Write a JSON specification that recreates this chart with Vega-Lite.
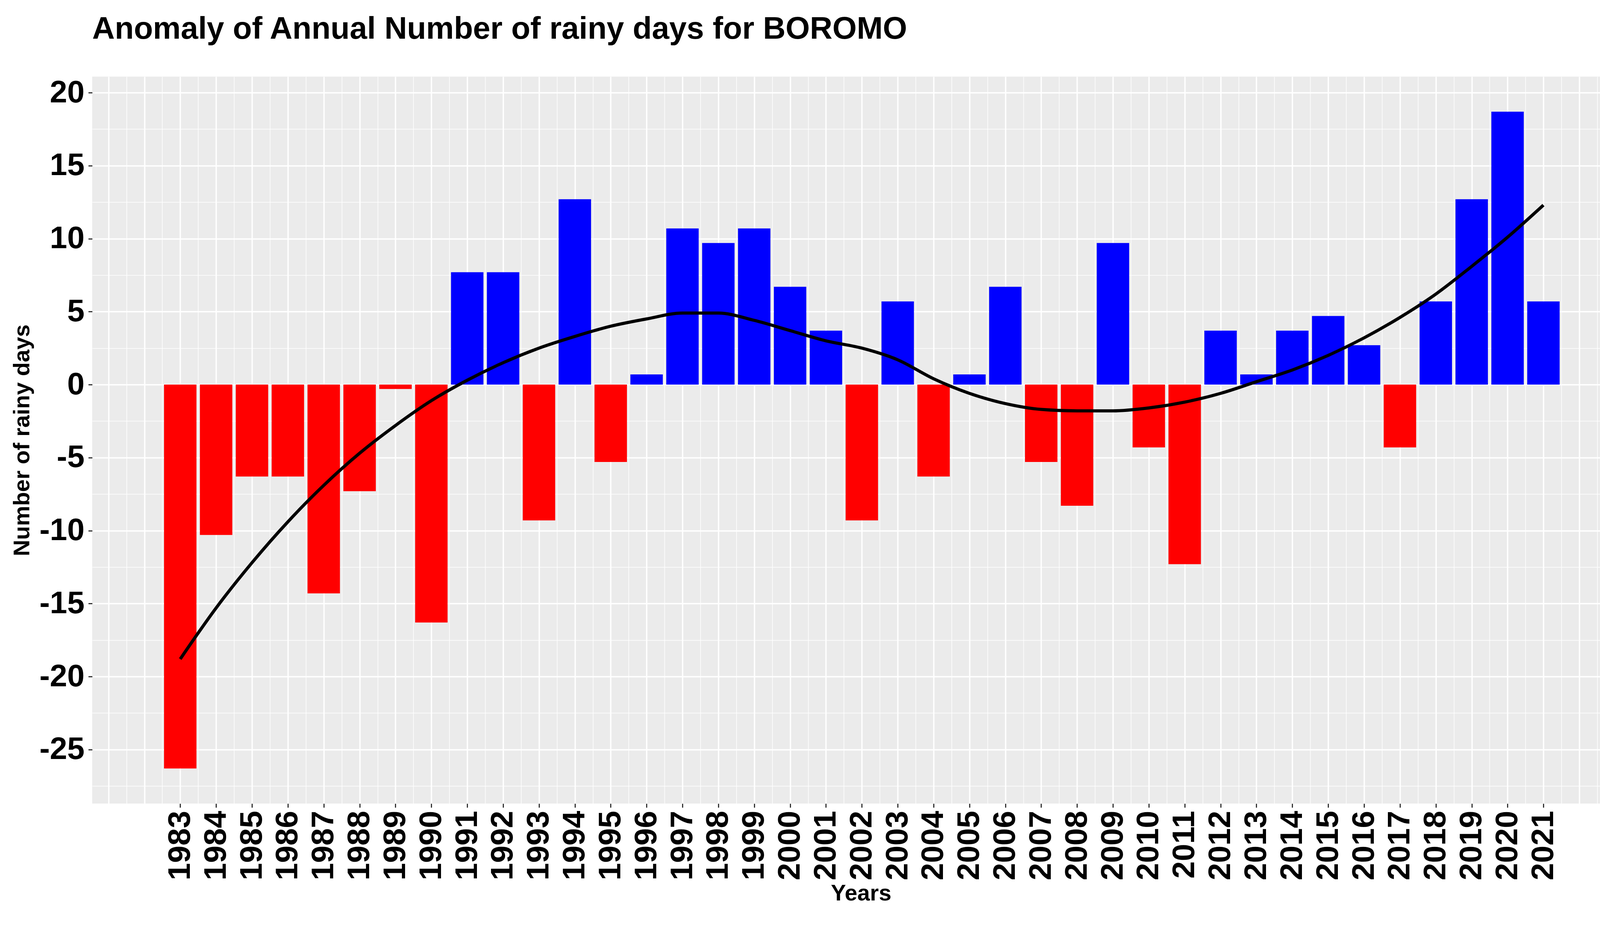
{
  "$schema": "https://vega.github.io/schema/vega-lite/v6.json",
  "width": 3936,
  "height": 1860,
  "autosize": "none",
  "padding": {"left": 236, "top": 196, "right": 28, "bottom": 344},
  "background": "white",
  "title": {
    "text": "Anomaly of Annual Number of rainy days for BOROMO",
    "anchor": "start",
    "frame": "group",
    "fontSize": 80,
    "fontWeight": "bold",
    "font": "Liberation Sans",
    "color": "black",
    "offset": 80
  },
  "config": {
    "view": {"fill": "#EBEBEB", "stroke": null},
    "axis": {
      "labelFont": "Liberation Sans",
      "titleFont": "Liberation Sans",
      "labelFontSize": 80,
      "labelFontWeight": "bold",
      "labelColor": "black",
      "titleFontSize": 58,
      "titleFontWeight": "bold",
      "titleColor": "black",
      "gridColor": "white",
      "domain": false,
      "tickColor": "#333333",
      "tickSize": 10,
      "tickWidth": 3
    }
  },
  "datasets": {
    "bars": [
      {"year": 1983, "value": -26.3}, {"year": 1984, "value": -10.3}, {"year": 1985, "value": -6.3},
      {"year": 1986, "value": -6.3}, {"year": 1987, "value": -14.3}, {"year": 1988, "value": -7.3},
      {"year": 1989, "value": -0.3}, {"year": 1990, "value": -16.3}, {"year": 1991, "value": 7.7},
      {"year": 1992, "value": 7.7}, {"year": 1993, "value": -9.3}, {"year": 1994, "value": 12.7},
      {"year": 1995, "value": -5.3}, {"year": 1996, "value": 0.7}, {"year": 1997, "value": 10.7},
      {"year": 1998, "value": 9.7}, {"year": 1999, "value": 10.7}, {"year": 2000, "value": 6.7},
      {"year": 2001, "value": 3.7}, {"year": 2002, "value": -9.3}, {"year": 2003, "value": 5.7},
      {"year": 2004, "value": -6.3}, {"year": 2005, "value": 0.7}, {"year": 2006, "value": 6.7},
      {"year": 2007, "value": -5.3}, {"year": 2008, "value": -8.3}, {"year": 2009, "value": 9.7},
      {"year": 2010, "value": -4.3}, {"year": 2011, "value": -12.3}, {"year": 2012, "value": 3.7},
      {"year": 2013, "value": 0.7}, {"year": 2014, "value": 3.7}, {"year": 2015, "value": 4.7},
      {"year": 2016, "value": 2.7}, {"year": 2017, "value": -4.3}, {"year": 2018, "value": 5.7},
      {"year": 2019, "value": 12.7}, {"year": 2020, "value": 18.7}, {"year": 2021, "value": 5.7}
    ],
    "trend": [
      {"year": 1983, "value": -18.8}, {"year": 1984, "value": -15.3}, {"year": 1985, "value": -12.2},
      {"year": 1986, "value": -9.4}, {"year": 1987, "value": -6.9}, {"year": 1988, "value": -4.7},
      {"year": 1989, "value": -2.8}, {"year": 1990, "value": -1.1}, {"year": 1991, "value": 0.3},
      {"year": 1992, "value": 1.5}, {"year": 1993, "value": 2.5}, {"year": 1994, "value": 3.3},
      {"year": 1995, "value": 4.0}, {"year": 1996, "value": 4.5}, {"year": 1997, "value": 4.9},
      {"year": 1998, "value": 4.9}, {"year": 1999, "value": 4.4}, {"year": 2000, "value": 3.7},
      {"year": 2001, "value": 3.0}, {"year": 2002, "value": 2.5}, {"year": 2003, "value": 1.7},
      {"year": 2004, "value": 0.4}, {"year": 2005, "value": -0.6}, {"year": 2006, "value": -1.3},
      {"year": 2007, "value": -1.7}, {"year": 2008, "value": -1.8}, {"year": 2009, "value": -1.8},
      {"year": 2010, "value": -1.6}, {"year": 2011, "value": -1.2}, {"year": 2012, "value": -0.6},
      {"year": 2013, "value": 0.2}, {"year": 2014, "value": 1.0}, {"year": 2015, "value": 2.0},
      {"year": 2016, "value": 3.2}, {"year": 2017, "value": 4.6}, {"year": 2018, "value": 6.2},
      {"year": 2019, "value": 8.1}, {"year": 2020, "value": 10.1}, {"year": 2021, "value": 12.3}
    ]
  },
  "encoding": {
    "x": {
      "field": "year",
      "type": "quantitative",
      "scale": {"domain": [1980.6, 2023.35], "nice": false, "zero": false},
      "axis": {
        "title": "Years",
        "titlePadding": 6,
        "values": [1981, 1981.5, 1982, 1982.5, 1983, 1983.5, 1984, 1984.5, 1985, 1985.5, 1986, 1986.5, 1987, 1987.5, 1988, 1988.5, 1989, 1989.5, 1990, 1990.5, 1991, 1991.5, 1992, 1992.5, 1993, 1993.5, 1994, 1994.5, 1995, 1995.5, 1996, 1996.5, 1997, 1997.5, 1998, 1998.5, 1999, 1999.5, 2000, 2000.5, 2001, 2001.5, 2002, 2002.5, 2003, 2003.5, 2004, 2004.5, 2005, 2005.5, 2006, 2006.5, 2007, 2007.5, 2008, 2008.5, 2009, 2009.5, 2010, 2010.5, 2011, 2011.5, 2012, 2012.5, 2013, 2013.5, 2014, 2014.5, 2015, 2015.5, 2016, 2016.5, 2017, 2017.5, 2018, 2018.5, 2019, 2019.5, 2020, 2020.5, 2021, 2021.5, 2022, 2022.5, 2023],
        "labelExpr": "(datum.value % 1 == 0 && datum.value >= 1983 && datum.value <= 2021) ? datum.value : ''",
        "labelAngle": -90,
        "labelAlign": "right",
        "labelBaseline": "middle",
        "labelPadding": 8,
        "labelOverlap": false,
        "labelFlush": false,
        "tickOpacity": {"condition": {"test": "datum.value % 1 == 0 && datum.value >= 1983 && datum.value <= 2021", "value": 1}, "value": 0},
        "gridWidth": {"condition": {"test": "datum.value % 1 != 0", "value": 1.5}, "value": 3.5}
      }
    },
    "y": {
      "field": "value",
      "type": "quantitative",
      "scale": {"domain": [-28.7, 21.1], "nice": false, "zero": false},
      "axis": {
        "title": "Number of rainy days",
        "titlePadding": 14,
        "labelPadding": 10,
        "values": [-27.5, -25, -22.5, -20, -17.5, -15, -12.5, -10, -7.5, -5, -2.5, 0, 2.5, 5, 7.5, 10, 12.5, 15, 17.5, 20],
        "labelExpr": "datum.value % 5 == 0 ? datum.value : ''",
        "tickOpacity": {"condition": {"test": "datum.value % 5 == 0", "value": 1}, "value": 0},
        "gridWidth": {"condition": {"test": "datum.value % 5 != 0", "value": 1.5}, "value": 3.5}
      }
    }
  },
  "layer": [
    {
      "data": {"name": "bars"},
      "mark": {"type": "bar", "width": 83},
      "encoding": {
        "y2": {"datum": 0},
        "color": {
          "condition": {"test": "datum.value < 0", "value": "#FF0000"},
          "value": "#0000FF"
        }
      }
    },
    {
      "data": {"name": "trend"},
      "mark": {"type": "line", "color": "black", "strokeWidth": 8, "interpolate": "monotone"},
      "encoding": {}
    }
  ]
}
